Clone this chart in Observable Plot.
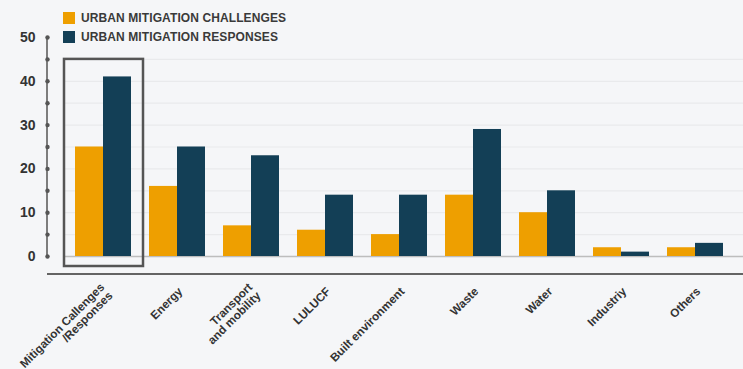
<!DOCTYPE html>
<html>
<head>
<meta charset="utf-8">
<script src="https://cdn.jsdelivr.net/npm/d3@7"></script>
<script src="https://cdn.jsdelivr.net/npm/@observablehq/plot@0.6"></script>
<style>
  html, body { margin: 0; padding: 0; background: #f5f6f8; }
  #wrap { position: relative; width: 743px; height: 369px; font-family: "Liberation Sans", Arial, sans-serif; }
  .leg { position: absolute; left: 63px; display: flex; align-items: center; font-size: 12px; font-weight: bold; color: #3a3a3a; letter-spacing: 0.1px; }
  .leg span.sw { display: inline-block; width: 12px; height: 12px; margin-right: 6px; }
  svg { position: absolute; left: 0; top: 0; }
</style>
</head>
<body>
<div id="wrap"></div>
<script>
const categories = ["Mitigation Callenges/Responses", "Energy", "Transport and mobility", "LULUCF", "Built environment", "Waste", "Water", "Industriy", "Others"];
const xTickLabels = ["Mitigation Callenges\n/Responses", "Energy", "Transport\nand mobility", "LULUCF", "Built environment", "Waste", "Water", "Industriy", "Others"];
const challenges = [25, 16, 7, 6, 5, 14, 10, 2, 2];
const responses = [41, 25, 23, 14, 14, 29, 15, 1, 3];
const seriesNames = ["URBAN MITIGATION CHALLENGES", "URBAN MITIGATION RESPONSES"];
const seriesColors = ["#ee9f00", "#133f56"];
const yMajorTicks = [0, 10, 20, 30, 40, 50];
const yDotTicks = [0, 5, 10, 15, 20, 25, 30, 35, 40, 45, 50];
const gridTicks = [5, 10, 15, 20, 25, 30, 35, 40, 45];
const highlight = [{category: categories[0], top: 45}];

const chal = categories.map((c, i) => ({category: c, value: challenges[i]}));
const resp = categories.map((c, i) => ({category: c, value: responses[i]}));

const plot = Plot.plot({
  width: 743,
  height: 369,
  marginTop: 37,
  marginBottom: 113,
  marginLeft: 64,
  marginRight: 0,
  style: {background: "transparent", fontFamily: "Liberation Sans, Arial, sans-serif", color: "#333"},
  x: {domain: categories, range: [65, 732], paddingInner: 0.245, paddingOuter: 0.1225, label: null},
  y: {domain: [0, 50], label: null},
  marks: [
    Plot.ruleY(gridTicks, {stroke: "#e9eaec", strokeWidth: 1.2, insetLeft: -1}),
    Plot.ruleY([0], {stroke: "#bdbdbd", strokeWidth: 1.5}),
    (index, scales, values, dimensions) => {
      const y0 = scales.y(0) + 18;
      return d3.create("svg:line")
        .attr("x1", dimensions.marginLeft - 17)
        .attr("x2", dimensions.width)
        .attr("y1", y0)
        .attr("y2", y0)
        .attr("stroke", "#333")
        .attr("stroke-width", 1.5)
        .node();
    },
    Plot.barY(chal, {x: "category", y: "value", fill: seriesColors[0], insetRight: 28}),
    Plot.barY(resp, {x: "category", y: "value", fill: seriesColors[1], insetLeft: 28}),
    Plot.barY(highlight, {x: "category", y1: 0, y2: "top", fill: "none", stroke: "#555", strokeWidth: 2.5, insetLeft: -11, insetRight: -12, insetBottom: -10}),
    (index, scales, values, dimensions) => {
      return d3.create("svg:line")
        .attr("x1", dimensions.marginLeft - 17)
        .attr("x2", dimensions.marginLeft - 17)
        .attr("y1", scales.y(50))
        .attr("y2", scales.y(0))
        .attr("stroke", "#555")
        .attr("stroke-width", 1.5)
        .node();
    },
    Plot.dot(yDotTicks, {y: d => d, frameAnchor: "left", dx: -17, r: 2.2, fill: "#555", stroke: null}),
    Plot.axisY(yMajorTicks, {tickSize: 0, tickPadding: 29, fontSize: 14, fontWeight: "bold", fill: "#333", label: null}),
    Plot.axisX({tickSize: 0, tickPadding: 33, dx: 3, tickRotate: -45, fontSize: 11.7, fontWeight: "bold", fill: "#333", label: null,
      tickFormat: d => xTickLabels[categories.indexOf(d)]})
  ]
});

const wrap = document.getElementById("wrap");
wrap.appendChild(plot);
seriesNames.forEach((name, i) => {
  const div = document.createElement("div");
  div.className = "leg";
  div.style.top = (i === 0 ? 11 : 30) + "px";
  div.innerHTML = `<span class="sw" style="background:${seriesColors[i]}"></span><span>${name}</span>`;
  wrap.appendChild(div);
});
</script>
</body>
</html>
